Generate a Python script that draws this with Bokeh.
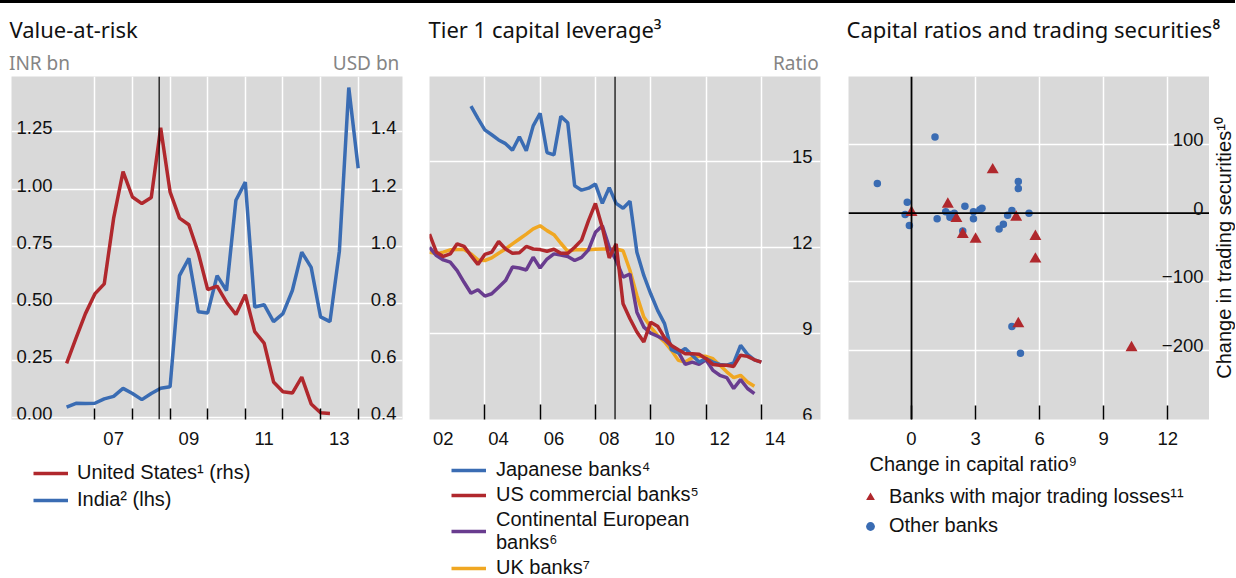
from bokeh.plotting import figure
from bokeh.models import (Range1d, FixedTicker, Span, Label, Legend, LegendItem, Div,
                          LinearAxis, Title, Spacer)
from bokeh.layouts import row, column
from bokeh.embed import file_html
from bokeh.resources import INLINE

# ---------------- data ----------------
# Panel 1: Value-at-risk, quarterly, first observation 2006 Q2
var_first_quarter = 2006.25
us_var_usd = [0.590, 0.678, 0.764, 0.833, 0.868, 1.098, 1.261, 1.172, 1.149, 1.170,
              1.414, 1.190, 1.098, 1.075, 0.977, 0.848, 0.860, 0.804, 0.761, 0.830,
              0.701, 0.661, 0.525, 0.491, 0.486, 0.542, 0.448, 0.417, 0.415]
india_var_inr = [0.046, 0.063, 0.062, 0.063, 0.082, 0.093, 0.128, 0.106, 0.079, 0.106,
                 0.129, 0.135, 0.621, 0.697, 0.463, 0.458, 0.621, 0.556, 0.951, 1.030,
                 0.484, 0.494, 0.420, 0.455, 0.556, 0.724, 0.657, 0.441, 0.420, 0.728,
                 1.444, 1.091]
var_label_pos = [2007.5, 2009.5, 2011.5, 2013.5]
var_label_text = ["07", "09", "11", "13"]
var_year_marks = [2007, 2008, 2009, 2010, 2011, 2012, 2013, 2014]
inr_ticks = [0.0, 0.25, 0.5, 0.75, 1.0, 1.25]
inr_tick_text = ["0.00", "0.25", "0.50", "0.75", "1.00", "1.25"]
usd_ticks = [0.4, 0.6, 0.8, 1.0, 1.2, 1.4]
usd_tick_text = ["0.4", "0.6", "0.8", "1.0", "1.2", "1.4"]
var_unit_pos = [2005.53, 2014.21]
var_unit_text = ["INR bn", "USD bn"]
lehman = 2008.71

# Panel 2: Tier 1 capital leverage, quarterly
lev_first_quarter = 2002.0
japan_first_quarter = 2003.5
japanese_banks = [16.92, 16.49, 16.09, 15.92, 15.74, 15.61, 15.38, 15.85, 15.36, 16.23,
                  16.67, 15.30, 15.22, 16.56, 16.34, 14.14, 13.99, 14.06, 14.20, 13.53,
                  14.08, 13.53, 13.36, 13.60, 11.83, 11.02, 10.38, 9.80, 9.34, 8.43,
                  8.32, 8.47, 8.24, 8.00, 8.12, 8.00, 7.92, 7.89, 7.97, 8.58,
                  8.27, 8.08, 8.00]
us_commercial_banks = [12.46, 11.83, 11.68, 11.77, 12.12, 12.03, 11.71, 11.40, 11.75, 11.83,
                       12.20, 11.94, 11.79, 11.81, 12.03, 11.94, 11.92, 11.86, 11.93, 11.79,
                       11.79, 12.00, 12.25, 12.93, 13.53, 12.69, 11.63, 12.12, 10.03, 9.51,
                       9.05, 8.70, 9.39, 9.25, 8.85, 8.58, 8.43, 8.29, 8.29, 8.27,
                       8.12, 7.92, 7.89, 7.89, 7.85, 8.24, 8.20, 8.08, 8.00]
continental_banks = [12.00, 11.71, 11.56, 11.48, 11.19, 10.78, 10.40, 10.52, 10.30, 10.38,
                     10.61, 10.84, 11.31, 11.28, 11.21, 11.65, 11.28, 11.59, 11.77, 11.73,
                     11.68, 11.54, 11.65, 11.91, 12.52, 12.75, 12.00, 11.54, 10.96, 11.07,
                     9.74, 9.22, 9.01, 8.90, 8.78, 8.55, 8.35, 7.92, 8.00, 7.92,
                     8.08, 7.71, 7.54, 7.46, 7.08, 7.39, 7.08, 6.90]
uk_banks = [11.83, 11.77, 11.83, 11.91, 11.92, 11.92, 11.77, 11.56, 11.54, 11.63,
            11.79, 11.94, 12.12, 12.29, 12.46, 12.64, 12.75, 12.58, 12.44, 12.14,
            11.86, 11.91, 11.92, 11.91, 11.93, 11.94, 11.94, 11.94, 11.88, 11.19,
            10.32, 9.57, 9.22, 8.93, 8.70, 8.41, 8.06, 8.00, 8.15, 8.20,
            8.20, 8.12, 7.89, 7.66, 7.46, 7.54, 7.31, 7.16]
lev_label_pos = [2002.5, 2004.5, 2006.5, 2008.5, 2010.5, 2012.5, 2014.5]
lev_label_text = ["02", "04", "06", "08", "10", "12", "14"]
lev_year_marks = [2004, 2006, 2008, 2010, 2012, 2014]
ratio_ticks = [6, 9, 12, 15]
ratio_tick_text = ["6", "9", "12", "15"]
lev_unit_pos = [2015.25]
lev_unit_text = ["Ratio"]

# Panel 3: Capital ratios and trading securities
other_cap = [-1.6, 1.1, -0.2, -0.3, -0.1, 1.2, 1.6, 1.8, 1.8, 2.0, 2.5, 2.4, 2.9,
             2.9, 3.2, 3.3, 4.1, 4.3, 4.5, 4.7, 5.0, 5.0, 5.5, 4.7, 5.1]
other_sec = [43, 111, 16, -2, -18, -8, 2, -2, -6, 0, 10, -26, 2,
             -8, 5, 7, -23, -16, -3, 4, 46, 36, 0, -165, -204]
loss_cap = [0.0, 1.7, 2.1, 2.4, 3.0, 3.8, 4.9, 5.8, 5.8, 5.0, 10.3]
loss_sec = [1, 13, -8, -31, -38, 63, -6, -34, -67, -161, -196]
cap_ticks = [0, 3, 6, 9, 12]
cap_grid = [3, 6, 9, 12]
sec_ticks = [100, 0, -100, -200]
sec_tick_text = ["100", "0", "\u2212100", "\u2212200"]
sec_grid = [100, -100, -200]

# ---------------- style ----------------
RED = "#b0282d"
BLUE = "#3a6cb3"
PURPLE = "#693c8f"
ORANGE = "#f0a722"
BG = "#d9d9d9"
TXT = "#111111"
GREY = "#858585"
TFONT = "Liberation Sans"
HFONT = "Noto Sans"
TICK_SIZE = "18.5px"
LEG_SIZE = "20px"
TITLE_SIZE = "22px"
UNIT_SIZE = "19px"

TOTAL_H = 575
TOP = 73
FRAME_H = 343


def make_fig(width, xr, yr, left, right, bottom, top=TOP):
    p = figure(width=width, height=top + FRAME_H + bottom, x_range=xr, y_range=yr, title=None,
               output_backend="svg", toolbar_location=None,
               x_axis_location="below", y_axis_location=None,
               min_border_left=left, min_border_right=right,
               min_border_top=top, min_border_bottom=bottom)
    p.background_fill_color = BG
    p.border_fill_color = "white"
    p.outline_line_color = None
    for g in p.grid:
        g.grid_line_color = "white"
        g.grid_line_width = 1.5
    ax = p.xaxis[0]
    ax.axis_line_color = None
    ax.major_label_text_font = TFONT
    ax.major_label_text_font_size = TICK_SIZE
    ax.major_label_text_color = TXT
    ax.major_label_standoff = 12
    ax.major_tick_out = 0
    ax.minor_tick_out = 0
    return p


def blank_fig(width, height, yr, left, top, right, bottom):
    b = figure(width=width, height=height, x_range=Range1d(0, 1), y_range=yr,
               title=None, output_backend="svg", toolbar_location=None,
               x_axis_location=None, y_axis_location=None,
               min_border_left=left, min_border_top=top,
               min_border_right=right, min_border_bottom=bottom)
    b.grid.visible = False
    b.background_fill_color = "white"
    b.border_fill_color = "white"
    b.outline_line_color = None
    return b


def legend_fig(width, height, left, top, specs, glyph_w, glyph_h, standoff, spacing):
    # a blank plot that only carries the legend of the panel above it
    lf = blank_fig(width, height, Range1d(0, 1), left, top, 0, 0)
    items = []
    for text, kind, kw in specs:
        # legend key glyphs: their points lie outside the blank plot's ranges
        if kind == "line":
            r = lf.line(x=[-3, -2], y=[-3, -2], **kw)
        else:
            r = lf.scatter(x=[-3], y=[-3], **kw)
        items.append(LegendItem(label=text, renderers=[r]))
    leg = Legend(items=items, location="top_left", orientation="vertical",
                 label_text_font=TFONT, label_text_font_size=LEG_SIZE,
                 label_text_color=TXT, glyph_width=glyph_w, glyph_height=glyph_h,
                 label_height=20, label_standoff=standoff, spacing=spacing,
                 padding=0, margin=0, border_line_color=None,
                 background_fill_alpha=0)
    lf.add_layout(leg)
    return lf


def inside_label(p, x, y, text, dx, dy, align="left", yname="default"):
    p.add_layout(Label(x=x, y=y, x_offset=dx, y_offset=dy, text=text,
                       text_font=TFONT, text_font_size=TICK_SIZE, text_color=TXT,
                       text_align=align, text_baseline="alphabetic",
                       y_range_name=yname))


def add_title(p, text, offset, standoff):
    p.add_layout(Title(text=text, align="left", offset=offset, standoff=standoff,
                       text_font=HFONT, text_font_size=TITLE_SIZE,
                       text_font_style="normal", text_color=TXT), "above")


def add_units(p, pos, texts, standoff=1):
    ax = LinearAxis(ticker=FixedTicker(ticks=pos),
                    major_label_overrides=dict(zip(pos, texts)),
                    axis_line_color=None, major_tick_line_color=None,
                    minor_tick_line_color=None, major_tick_in=0, major_tick_out=0,
                    minor_tick_in=0, minor_tick_out=0,
                    major_label_standoff=standoff,
                    major_label_text_font=HFONT, major_label_text_font_size=UNIT_SIZE,
                    major_label_text_color=GREY)
    p.add_layout(ax, "above")


# ---------------- panel 1 ----------------
B12 = 38
x1 = (2004.785, 2015.178)
inr_range = (-0.008, 1.492)
p1 = make_fig(418, Range1d(*x1), Range1d(*inr_range), 11, 16, B12)
p1.extra_y_ranges = {"usd": Range1d(0.4 + 0.8 * inr_range[0], 0.4 + 0.8 * inr_range[1])}
p1.xgrid.ticker = FixedTicker(ticks=var_year_marks)
p1.ygrid.ticker = FixedTicker(ticks=inr_ticks)
a1 = p1.xaxis[0]
a1.ticker = FixedTicker(ticks=var_label_pos, minor_ticks=var_year_marks)
a1.major_label_overrides = dict(zip(var_label_pos, var_label_text))
a1.major_tick_line_color = None
a1.major_tick_in = 0
a1.minor_tick_line_color = "black"
a1.minor_tick_line_width = 1.5
a1.minor_tick_in = 11

p1.add_layout(Span(location=lehman, dimension="height", line_color="black", line_width=1.2))
xs_india = [var_first_quarter + 0.25 * i for i in range(len(india_var_inr))]
xs_us = [var_first_quarter + 0.25 * i for i in range(len(us_var_usd))]
p1.line(xs_india, india_var_inr, line_color=BLUE, line_width=3.5)
p1.line(xs_us, us_var_usd, line_color=RED, line_width=3.5, y_range_name="usd")

for t, s in zip(inr_ticks, inr_tick_text):
    inside_label(p1, x1[0], t, s, 5, 4)
for t, s in zip(usd_ticks, usd_tick_text):
    inside_label(p1, x1[1], t, s, -6, 4, align="right", yname="usd")

add_units(p1, var_unit_pos, var_unit_text)
add_title(p1, "Value-at-risk", -2, 6)

h1 = TOP + FRAME_H + B12
l1 = legend_fig(418 - 22, TOTAL_H - h1, 11, 4,
                [("United States\u00b9 (rhs)", "line", dict(line_color=RED, line_width=3.5)),
                 ("India\u00b2 (lhs)", "line", dict(line_color=BLUE, line_width=3.5))],
                35, 22, 9, 4)

# ---------------- panel 2 ----------------
x2 = (2002.0, 2016.14)
y2 = (6.0, 17.95)
p2 = make_fig(418, Range1d(*x2), Range1d(*y2), 11, 16, B12)
p2.xgrid.ticker = FixedTicker(ticks=lev_year_marks)
p2.ygrid.ticker = FixedTicker(ticks=ratio_ticks)
a2 = p2.xaxis[0]
a2.ticker = FixedTicker(ticks=lev_label_pos, minor_ticks=lev_year_marks)
a2.major_label_overrides = dict(zip(lev_label_pos, lev_label_text))
a2.major_tick_line_color = None
a2.major_tick_in = 0
a2.minor_tick_line_color = "black"
a2.minor_tick_line_width = 1.5
a2.minor_tick_in = 15

p2.add_layout(Span(location=lehman, dimension="height", line_color="black", line_width=1.2))
xs_lev = [lev_first_quarter + 0.25 * i for i in range(len(us_commercial_banks))]
xs_jp = [japan_first_quarter + 0.25 * i for i in range(len(japanese_banks))]
p2.line(xs_lev[:len(uk_banks)], uk_banks, line_color=ORANGE, line_width=3.5)
p2.line(xs_lev[:len(continental_banks)], continental_banks, line_color=PURPLE, line_width=3.5)
p2.line(xs_jp, japanese_banks, line_color=BLUE, line_width=3.5)
p2.line(xs_lev, us_commercial_banks, line_color=RED, line_width=3.5)

for t, s in zip(ratio_ticks, ratio_tick_text):
    inside_label(p2, x2[1], t, s, -8, 5, align="right")

add_units(p2, lev_unit_pos, lev_unit_text)
add_title(p2, "Tier 1 capital leverage\u00b3", -1, 6)

l2 = legend_fig(418 - 22, TOTAL_H - h1, 11, 1,
                [("Japanese banks\u2074", "line", dict(line_color=BLUE, line_width=3.5)),
                 ("US commercial banks\u2075", "line", dict(line_color=RED, line_width=3.5)),
                 ("Continental European\nbanks\u2076", "line", dict(line_color=PURPLE, line_width=3.5)),
                 ("UK banks\u2077", "line", dict(line_color=ORANGE, line_width=3.5))],
                35, 22, 10, 2)

# ---------------- panel 3 ----------------
B3 = 62
TITLE3_H = 45
TOP3 = TOP - TITLE3_H
x3 = (-2.95, 13.95)
y3 = (-300.5, 199.0)

# strip above panel 3 that carries its title (title may run over the y-title strip)
t3 = blank_fig(399, TITLE3_H, Range1d(0, 1), 12, TITLE3_H - 2, 0, 0)
add_title(t3, "Capital ratios and trading securities\u2078", -2, 6)

p3 = make_fig(373, Range1d(*x3), Range1d(*y3), 12, 0, B3, top=TOP3)
p3.xgrid.ticker = FixedTicker(ticks=cap_grid)
p3.ygrid.ticker = FixedTicker(ticks=sec_grid)
a3 = p3.xaxis[0]
a3.ticker = FixedTicker(ticks=cap_ticks)
a3.major_tick_line_color = "black"
a3.major_tick_line_width = 1.5
a3.major_tick_in = 14
a3.minor_tick_line_color = None

p3.add_layout(Span(location=0, dimension="height", line_color="black", line_width=1.8))
p3.add_layout(Span(location=0, dimension="width", line_color="black", line_width=1.8))
p3.scatter(other_cap, other_sec, marker="circle", size=7.5, fill_color=BLUE, line_color=None)
p3.scatter(loss_cap, loss_sec, marker="triangle", size=12, fill_color=RED, line_color=None)

for t, s in zip(sec_ticks, sec_tick_text):
    inside_label(p3, x3[1], t, s, -6, 5, align="right")

p3.add_layout(Title(text="Change in capital ratio\u2079", align="left", offset=21, standoff=6,
                    text_font=TFONT, text_font_size=LEG_SIZE, text_font_style="normal",
                    text_color=TXT), "below")

h3 = TOP3 + FRAME_H + B3
# narrow strip on the right of panel 3 carrying its vertical axis title
p3_ytitle = blank_fig(26, h3, Range1d(*y3), 24, TOP3, 0, B3)
p3_ytitle.add_layout(LinearAxis(ticker=FixedTicker(ticks=[]), axis_line_color=None,
                                major_tick_line_color=None, minor_tick_line_color=None,
                                major_tick_out=0, minor_tick_out=0,
                                axis_label="Change in trading securities\u00b9\u2070",
                                axis_label_standoff=1, axis_label_text_font=TFONT,
                                axis_label_text_font_size=LEG_SIZE,
                                axis_label_text_font_style="normal",
                                axis_label_text_color=TXT), "left")

leg3_h = TOTAL_H - TITLE3_H - h3
l3 = legend_fig(399 - 11, leg3_h, 12, 4,
                [("Banks with major trading losses\u00b9\u00b9", "scatter",
                  dict(marker="triangle", fill_color=RED, line_color=None)),
                 ("Other banks", "scatter",
                  dict(marker="circle", fill_color=BLUE, line_color=None))],
                22, 22, 8, 6)

# ---------------- page ----------------
top_rule = Div(text="", width=1235, height=3, margin=0,
               styles={"background-color": "black"})
col1 = column(p1, row(Spacer(width=22, height=TOTAL_H - h1), l1, spacing=0), spacing=0)
col2 = column(p2, row(Spacer(width=22, height=TOTAL_H - h1), l2, spacing=0), spacing=0)
col3 = column(t3, row(p3, p3_ytitle, spacing=0),
              row(Spacer(width=11, height=leg3_h), l3, spacing=0), spacing=0)
layout = column(top_rule, row(col1, col2, col3, spacing=0), spacing=0)

with open("out.html", "w") as f:
    f.write(file_html(layout, INLINE))
